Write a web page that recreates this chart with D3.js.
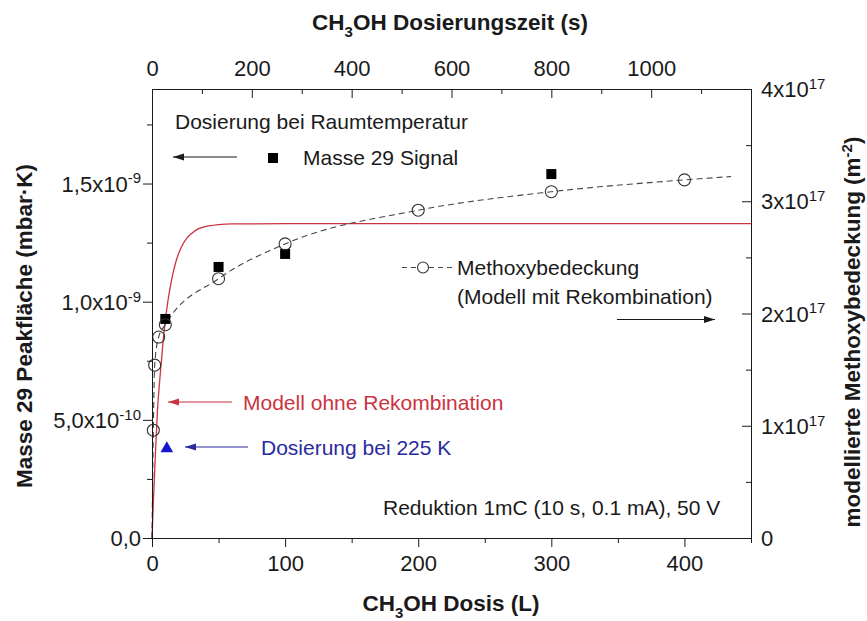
<!DOCTYPE html>
<html><head><meta charset="utf-8">
<script src="https://cdn.jsdelivr.net/npm/d3@7"></script>
<style>body{margin:0;background:#fff} svg{display:block}</style>
</head><body><svg id="c" width="867" height="621"></svg>
<script>
// ---- data ----
const doseTickValues = [0, 100, 200, 300, 400];
const doseMinorTicks = [50, 150, 250, 350, 450];
const timeTickValues = [0, 200, 400, 600, 800, 1000];
const timeMinorTicks = [100, 300, 500, 700, 900, 1100, 1200];
const leftTickValues = [0, 5e-10, 1e-9, 1.5e-9];
const leftTickLabels = ["0,0", "5,0x10", "1,0x10", "1,5x10"];
const leftTickExponents = ["", "-10", "-9", "-9"];
const leftMinorTicks = [2.5e-10, 7.5e-10, 1.25e-9, 1.75e-9];
const rightTickValues = [0, 1e17, 2e17, 3e17, 4e17];
const rightTickLabels = ["0", "1x10", "2x10", "3x10", "4x10"];
const rightTickExponents = ["", "17", "17", "17", "17"];
const rightMinorTicks = [0.5e17, 1.5e17, 2.5e17, 3.5e17];

const signalDose = [10, 50, 100, 300];
const signalArea = [0.927e-9, 1.147e-9, 1.202e-9, 1.540e-9];
const lowTempDose = [10];
const lowTempArea = [0.385e-9];
const coverageDose = [1, 2, 5, 10, 50, 100, 200, 300, 400];
const coverageValue = [0.96e17, 1.54e17, 1.79e17, 1.90e17, 2.31e17, 2.62e17, 2.92e17, 3.085e17, 3.19e17];
const coverageCurveDose = [0, 1, 2, 5, 10, 50, 100, 200, 300, 400, 435];
const coverageCurveValue = [0, 0.96e17, 1.54e17, 1.79e17, 1.90e17, 2.31e17, 2.62e17, 2.92e17, 3.085e17, 3.19e17, 3.22e17];
const modelDose = [0, 1, 2, 4, 6, 8, 10, 12, 15, 18, 22, 26, 30, 35, 40, 50, 60, 100, 200, 300, 400, 450];
const modelArea = [0, 0.15e-9, 0.28e-9, 0.53e-9, 0.68e-9, 0.81e-9, 0.92e-9, 1.005e-9, 1.10e-9, 1.17e-9, 1.23e-9, 1.268e-9, 1.29e-9, 1.309e-9, 1.318e-9, 1.326e-9, 1.329e-9, 1.33e-9, 1.33e-9, 1.33e-9, 1.33e-9, 1.33e-9];

// ---- setup ----
const FONT = '"Liberation Sans", Arial, Helvetica, sans-serif';
const INK = '#1a1a1a';
const RED = '#cc3340';
const BLUE = '#2a2aa0';
const svg = d3.select('#c').attr('font-family', FONT);
const L = 152, R = 751, T = 89, B = 538;
const x = d3.scaleLinear().domain([0, 450]).range([L, R]);
const xt = d3.scaleLinear().domain([0, 1200]).range([L, R]);
const yl = d3.scaleLinear().domain([0, 1.9e-9]).range([B, T]);
const yr = d3.scaleLinear().domain([0, 4e17]).range([B, T]);

// ---- series ----
const modelPts = modelDose.map((d, i) => [d, modelArea[i]]);
svg.append('path').datum(modelPts)
  .attr('fill', 'none').attr('stroke', RED).attr('stroke-width', 1.3)
  .attr('d', d3.line().x(d => x(d[0])).y(d => yl(d[1])).curve(d3.curveMonotoneX));

const covCurve = coverageCurveDose.map((d, i) => [d, coverageCurveValue[i]]);
svg.append('path').datum(covCurve)
  .attr('fill', 'none').attr('stroke', '#444').attr('stroke-width', 1.1).attr('stroke-dasharray', '6,4')
  .attr('d', d3.line().x(d => x(d[0])).y(d => yr(d[1])).curve(d3.curveMonotoneX));

svg.append('g').selectAll('rect').data(signalDose.map((d, i) => [d, signalArea[i]])).join('rect')
  .attr('x', d => x(d[0]) - 5).attr('y', d => yl(d[1]) - 5).attr('width', 10).attr('height', 10).attr('fill', '#000');

svg.append('g').selectAll('circle').data(coverageDose.map((d, i) => [d, coverageValue[i]])).join('circle')
  .attr('cx', d => x(d[0])).attr('cy', d => yr(d[1])).attr('r', 6)
  .attr('fill', 'none').attr('stroke', '#333').attr('stroke-width', 1.1);

svg.append('g').selectAll('path').data(lowTempDose.map((d, i) => [d, lowTempArea[i]])).join('path')
  .attr('transform', d => `translate(${x(d[0]) + 1.5},${yl(d[1]) + 1.5})`)
  .attr('d', d3.symbol(d3.symbolTriangle, 70)).attr('fill', '#1515d0');

// ---- annotations ----
function arrow(x1, x2, y, color) {
  svg.append('line').attr('x1', x1).attr('x2', x2).attr('y1', y).attr('y2', y).attr('stroke', color).attr('stroke-width', 1.1);
  const dir = Math.sign(x2 - x1);
  svg.append('path').attr('d', `M${x2},${y} L${x2 - dir * 11},${y - 3.5} L${x2 - dir * 11},${y + 3.5} Z`).attr('fill', color);
}
function label(tx, ty, s, color, size) {
  return svg.append('text').attr('x', tx).attr('y', ty).attr('dy', '0.35em')
    .attr('font-size', size || 21).attr('fill', color || INK).text(s);
}
label(175, 122, 'Dosierung bei Raumtemperatur');
arrow(237, 173, 157, INK);
svg.append('rect').attr('x', 268).attr('y', 153).attr('width', 10).attr('height', 10).attr('fill', '#000');
label(303, 158, 'Masse 29 Signal');

svg.append('line').attr('x1', 402).attr('x2', 452).attr('y1', 267.5).attr('y2', 267.5)
  .attr('stroke', '#444').attr('stroke-width', 1.1).attr('stroke-dasharray', '5,4');
svg.append('circle').attr('cx', 423).attr('cy', 267.5).attr('r', 5.5).attr('fill', '#fff').attr('stroke', '#333').attr('stroke-width', 1.1);
label(457, 268, 'Methoxybedeckung');
label(457, 297, '(Modell mit Rekombination)');
arrow(617, 715, 319.5, INK);

arrow(232, 168, 402, RED);
label(243, 403, 'Modell ohne Rekombination', RED);
arrow(248, 185, 447, BLUE);
label(261, 448, 'Dosierung bei 225 K', BLUE);
label(383, 508, 'Reduktion 1mC (10 s, 0.1 mA), 50 V');

// ---- axes ----
function styleAxis(g) {
  g.attr('font-family', FONT).attr('font-size', 22);
  g.selectAll('path.domain').attr('stroke', INK);
  g.selectAll('.tick line').attr('stroke', INK);
  g.selectAll('.tick text').attr('fill', INK);
}
// bottom
const gB = svg.append('g').attr('transform', `translate(0,${B})`);
gB.call(d3.axisBottom(x).tickValues(doseTickValues).tickSize(9).tickSizeOuter(0).tickFormat(d3.format('d')));
gB.append('g').call(d3.axisBottom(x).tickValues(doseMinorTicks).tickSize(5).tickFormat('')).select('.domain').remove();
styleAxis(gB);
gB.selectAll('.tick text').attr('y', 25).attr('dy', '0.35em');
// top
const gT = svg.append('g').attr('transform', `translate(0,${T})`);
gT.call(d3.axisTop(xt).tickValues(timeTickValues).tickSize(-9).tickSizeOuter(0).tickFormat(d3.format('d')));
gT.append('g').call(d3.axisTop(xt).tickValues(timeMinorTicks).tickSize(-5).tickFormat('')).select('.domain').remove();
styleAxis(gT);
gT.selectAll('.tick text').attr('y', -21).attr('dy', '0.35em');
// left
const gL = svg.append('g').attr('transform', `translate(${L},0)`);
gL.call(d3.axisLeft(yl).tickValues(leftTickValues).tickSize(9).tickSizeOuter(0));
gL.append('g').call(d3.axisLeft(yl).tickValues(leftMinorTicks).tickSize(5).tickFormat('')).select('.domain').remove();
styleAxis(gL);
gL.selectAll(':scope > .tick text').each(function (d, i) {
  const t = d3.select(this).attr('x', -11).attr('dy', '0.35em').text(leftTickLabels[i]);
  if (leftTickExponents[i]) t.append('tspan').attr('font-size', 15).attr('dy', '-0.55em').text(leftTickExponents[i]);
});
// right
const gR = svg.append('g').attr('transform', `translate(${R},0)`);
gR.call(d3.axisRight(yr).tickValues(rightTickValues).tickSize(-9).tickSizeOuter(0));
gR.append('g').call(d3.axisRight(yr).tickValues(rightMinorTicks).tickSize(-5).tickFormat('')).select('.domain').remove();
styleAxis(gR);
gR.selectAll(':scope > .tick text').each(function (d, i) {
  const t = d3.select(this).attr('x', 10).attr('dy', '0.35em').text(rightTickLabels[i]);
  if (rightTickExponents[i]) t.append('tspan').attr('font-size', 15).attr('dy', '-0.55em').text(rightTickExponents[i]);
});

// ---- axis titles ----
function title(g, parts) {
  parts.forEach(p => {
    g.append('tspan').attr('font-size', p.s || 22.5).attr('dy', p.dy || 0).text(p.t);
  });
}
const tTop = svg.append('text').attr('x', 450).attr('y', 30).attr('text-anchor', 'middle')
  .attr('font-weight', 'bold').attr('font-size', 22.5).attr('fill', INK);
title(tTop, [{t: 'CH'}, {t: '3', s: 15, dy: 7}, {t: 'OH Dosierungszeit (s)', dy: -7}]);
const tBot = svg.append('text').attr('x', 451).attr('y', 611).attr('text-anchor', 'middle')
  .attr('font-weight', 'bold').attr('font-size', 22.5).attr('fill', INK);
title(tBot, [{t: 'CH'}, {t: '3', s: 15, dy: 7}, {t: 'OH Dosis (L)', dy: -7}]);
const tLeft = svg.append('text').attr('transform', 'translate(32,326) rotate(-90)').attr('text-anchor', 'middle')
  .attr('font-weight', 'bold').attr('font-size', 22.5).attr('fill', INK);
title(tLeft, [{t: 'Masse 29 Peakfläche (mbar·K)'}]);
const tRight = svg.append('text').attr('transform', 'translate(860,332) rotate(-90)').attr('text-anchor', 'middle')
  .attr('font-weight', 'bold').attr('font-size', 22.5).attr('fill', INK);
title(tRight, [{t: 'modellierte Methoxybedeckung (m'}, {t: '-2', s: 15, dy: -8}, {t: ')', dy: 8}]);
</script></body></html>
